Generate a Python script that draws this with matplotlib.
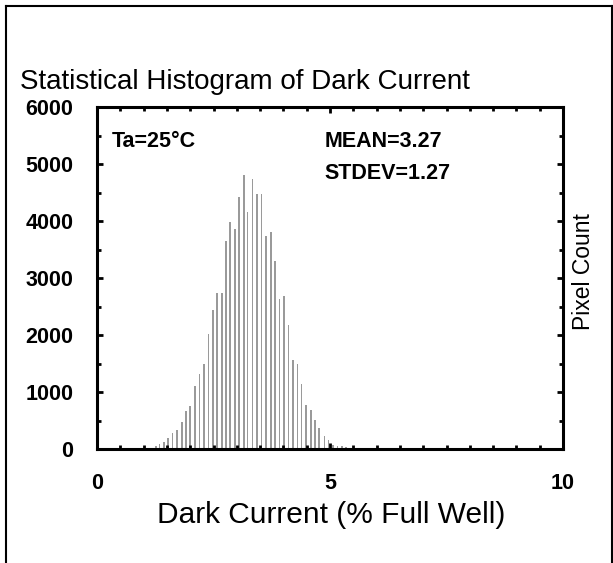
import numpy as np
import matplotlib
matplotlib.use("Agg")
import matplotlib.pyplot as plt
from matplotlib.ticker import MultipleLocator
from matplotlib.lines import Line2D

plt.rcParams['font.family'] = ['Liberation Sans', 'DejaVu Sans']

# histogram bins
bin_centers = [1.26, 1.34, 1.44, 1.53, 1.62, 1.72, 1.82, 1.91, 2.00, 2.10,
               2.20, 2.29, 2.39, 2.49, 2.58, 2.68, 2.77, 2.86, 2.96, 3.05,
               3.15, 3.23, 3.34, 3.43, 3.53, 3.63, 3.73, 3.82, 3.92, 4.01,
               4.11, 4.20, 4.30, 4.39, 4.49, 4.59, 4.68, 4.77, 4.88, 4.97,
               5.07, 5.16, 5.26, 5.35]
pixel_counts = [60, 90, 120, 190, 275, 330, 470, 670, 750, 1100,
                1310, 1500, 2010, 2430, 2740, 2730, 3650, 3990, 3860, 4420,
                4800, 4150, 4730, 4470, 4470, 3740, 3800, 3300, 2630, 2680,
                2175, 1560, 1490, 1140, 770, 680, 510, 360, 230, 160,
                70, 60, 50, 40]

x_ticks = [0, 5, 10]
y_ticks = [0, 1000, 2000, 3000, 4000, 5000, 6000]

W, H = 613, 563
fig = plt.figure(figsize=(W / 100, H / 100), dpi=100)
ax = fig.add_axes([97 / W, 1 - 449 / H, (563 - 97) / W, (449 - 107) / H])

ax.bar(bin_centers, pixel_counts, width=0.035, color="#9a9a9a", linewidth=0)

ax.set_xlim(0, 10)
ax.set_ylim(0, 6000)
ax.set_xticks(x_ticks)
ax.set_yticks(y_ticks)
ax.xaxis.set_minor_locator(MultipleLocator(0.5))
ax.yaxis.set_minor_locator(MultipleLocator(500))
ax.tick_params(which="both", direction="in", top=True, right=True,
               width=2, colors="black")
ax.tick_params(which="major", length=4)
ax.tick_params(which="minor", length=3)
ax.tick_params(axis="x", which="major", pad=17, labelsize=15.5)
ax.tick_params(axis="y", which="major", pad=17, labelsize=15.5)
for lab in ax.get_xticklabels() + ax.get_yticklabels():
    lab.set_fontweight("bold")
for sp in ax.spines.values():
    sp.set_linewidth(2.2)

# annotations
ax.text(0.32, 5390, "Ta=25°C", fontsize=15.5, fontweight="bold", va="center")
ax.text(4.89, 5390, "MEAN=3.27", fontsize=15.5, fontweight="bold", va="center")
ax.text(4.89, 4840, "STDEV=1.27", fontsize=15.5, fontweight="bold", va="center")

# titles and labels as figure text
fig.text(20 / W, 1 - 89 / H, "Statistical Histogram of Dark Current",
         fontsize=20, va="baseline", ha="left")
fig.text(331 / W, 1 - 515 / H, "Dark Current (% Full Well)",
         fontsize=21.5, va="center", ha="center")
fig.text(583 / W, 1 - 272 / H, "Pixel Count", fontsize=16.5,
         rotation=90, va="center", ha="center")

# cell border
fig.add_artist(Line2D([6 / W, 6 / W], [0, 1 - 6 / H], color="black", lw=1.5))
fig.add_artist(Line2D([6 / W, 611.5 / W], [1 - 6 / H, 1 - 6 / H], color="black", lw=1.5))
fig.add_artist(Line2D([611.5 / W, 611.5 / W], [0, 1 - 6 / H], color="black", lw=1.5))

fig.savefig("out.png", dpi=100)
